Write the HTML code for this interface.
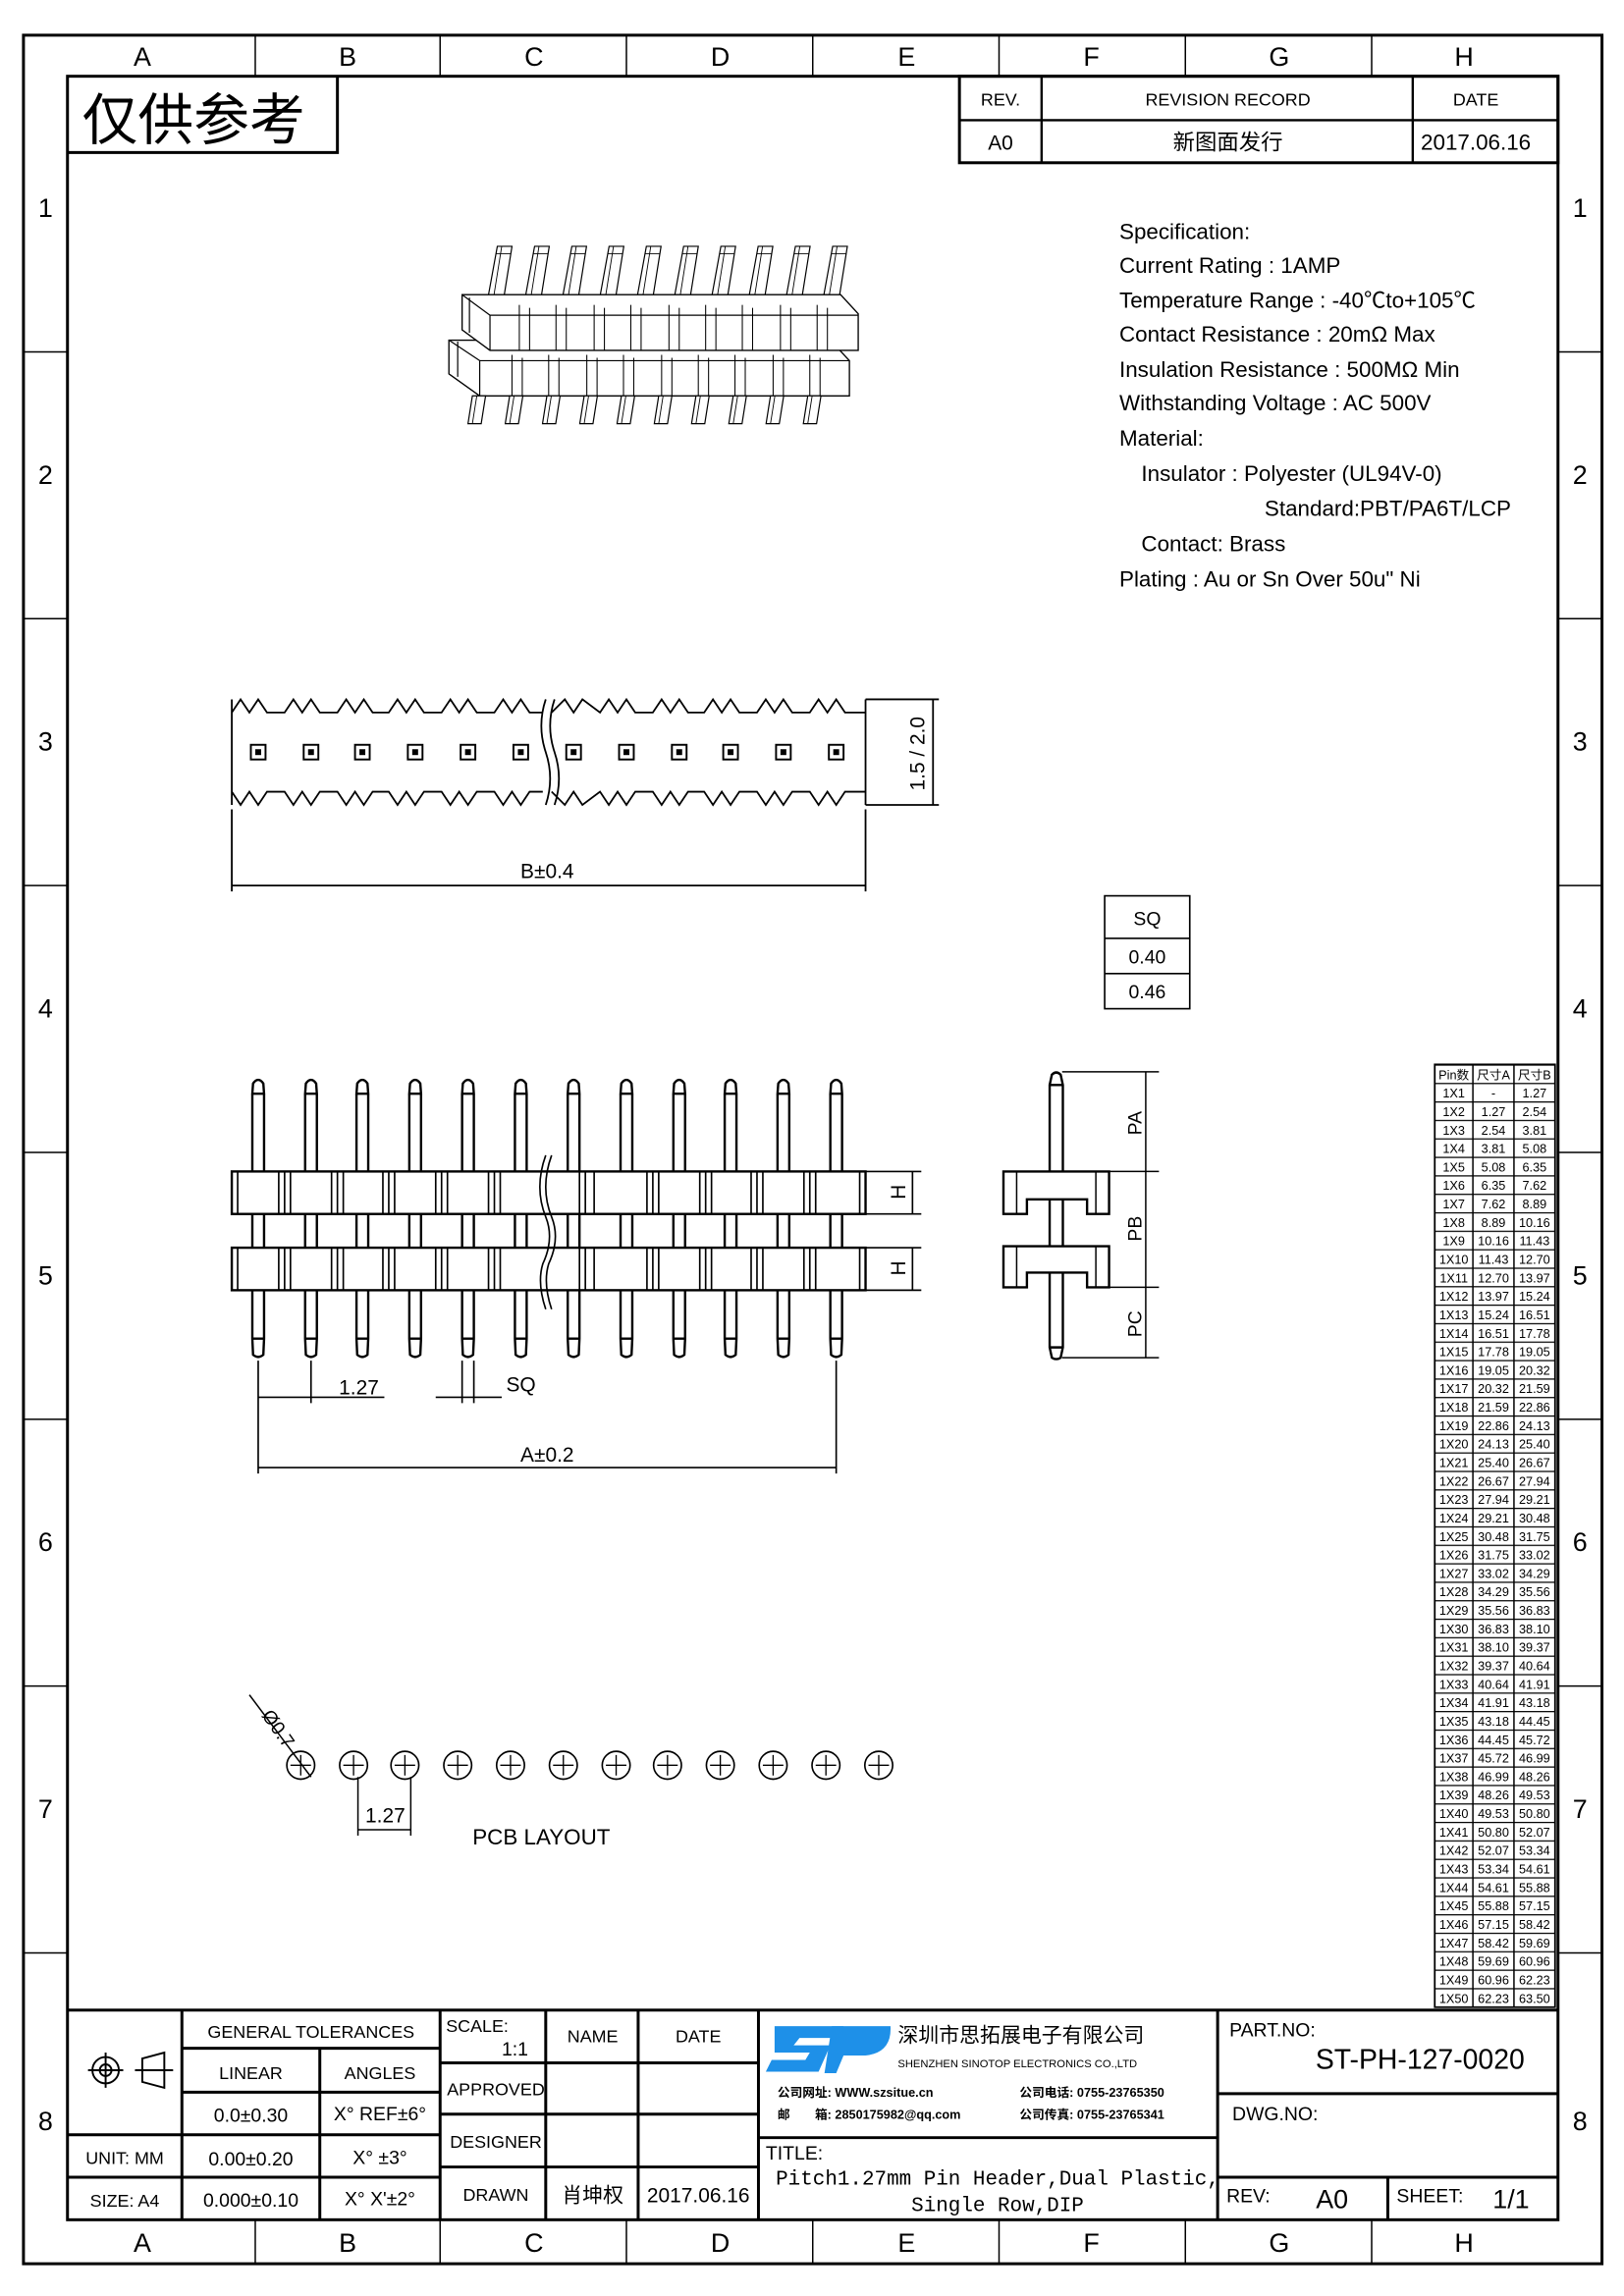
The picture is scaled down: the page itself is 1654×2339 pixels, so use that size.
<!DOCTYPE html>
<html><head><meta charset="utf-8"><style>
html,body{margin:0;padding:0;background:#fff}
svg{display:block}
text{font-family:"Liberation Sans Narrow","Liberation Sans","Noto Sans CJK SC",sans-serif;fill:#000}
.m{font-family:"Liberation Mono","Noto Sans CJK SC",monospace}
</style></head><body>
<svg width="1654" height="2339" viewBox="0 0 1107 1566" preserveAspectRatio="none" xmlns="http://www.w3.org/2000/svg">
<defs>
<pattern id="rows" x="0" y="726" width="82" height="12.6" patternUnits="userSpaceOnUse">
<line x1="0" y1="0.4" x2="82" y2="0.4" stroke="#000" stroke-width="0.9"/>
</pattern>
<g id="pin">
<path d="M-4,746 L-3.5,739 Q0,734 3.5,739 L4,746 Z M-4,746 V913 L-3.5,924 Q0,927 3.5,924 L4,913 V746 M-4,913 H4" fill="#fff" stroke="#000" stroke-width="1.6"/>
</g>
<g id="iso">
<polygon points="339,168 349,168 342,212 331,212" fill="#fff" stroke="#000" stroke-width="0.8"/>
<line x1="342" y1="168" x2="335" y2="212" stroke="#000" stroke-width="0.6"/>
<line x1="338" y1="173" x2="348" y2="173" stroke="#000" stroke-width="0.6"/>
</g>
<g id="isob">
<polygon points="322,270 331,270 328,289 319,289" fill="#fff" stroke="#000" stroke-width="0.8"/>
<line x1="325" y1="270" x2="322" y2="289" stroke="#000" stroke-width="0.6"/>
</g>
<g id="pad">
<circle cx="0" cy="0" r="9.5" fill="none" stroke="#000" stroke-width="1.1"/>
<path d="M-7,0H7M0,-7V7" stroke="#000" stroke-width="0.9"/>
</g>
</defs>

<rect x="16" y="24" width="1076" height="1520" fill="none" stroke="#000" stroke-width="2"/>
<rect x="46" y="52" width="1016" height="1462" fill="none" stroke="#000" stroke-width="2"/>
<g stroke="#000" stroke-width="1">
<path d="M174,24V52M300,24V52M427,24V52M554,24V52M681,24V52M808,24V52M935,24V52"/>
<path d="M174,1514V1544M300,1514V1544M427,1514V1544M554,1514V1544M681,1514V1544M808,1514V1544M935,1514V1544"/>
<path d="M16,240H46M16,422H46M16,604H46M16,786H46M16,968H46M16,1150H46M16,1332H46"/>
<path d="M1062,240H1092M1062,422H1092M1062,604H1092M1062,786H1092M1062,968H1092M1062,1150H1092M1062,1332H1092"/>
</g>
<g font-size="18" text-anchor="middle">
<text x="97" y="45">A</text><text x="237" y="45">B</text><text x="364" y="45">C</text><text x="491" y="45">D</text><text x="618" y="45">E</text><text x="744" y="45">F</text><text x="872" y="45">G</text><text x="998" y="45">H</text>
<text x="97" y="1536">A</text><text x="237" y="1536">B</text><text x="364" y="1536">C</text><text x="491" y="1536">D</text><text x="618" y="1536">E</text><text x="744" y="1536">F</text><text x="872" y="1536">G</text><text x="998" y="1536">H</text>
<text x="31" y="148">1</text><text x="31" y="330">2</text><text x="31" y="512">3</text><text x="31" y="694">4</text><text x="31" y="876">5</text><text x="31" y="1058">6</text><text x="31" y="1240">7</text><text x="31" y="1453">8</text>
<text x="1077" y="148">1</text><text x="1077" y="330">2</text><text x="1077" y="512">3</text><text x="1077" y="694">4</text><text x="1077" y="876">5</text><text x="1077" y="1058">6</text><text x="1077" y="1240">7</text><text x="1077" y="1453">8</text>
</g>

<path d="M230,52V104H46" fill="none" stroke="#000" stroke-width="2"/>
<text x="56" y="95" font-size="38" style="font-family:'Noto Sans CJK SC',sans-serif">仅供参考</text>

<rect x="654" y="52" width="408" height="59" fill="none" stroke="#000" stroke-width="2"/>
<path d="M654,82H1062M710,52V111M963,52V111" stroke="#000" stroke-width="1.6"/>
<g font-size="12" text-anchor="middle">
<text x="682" y="72">REV.</text><text x="837" y="72">REVISION RECORD</text><text x="1006" y="72">DATE</text>
<text x="682" y="102" font-size="14">A0</text><text x="837" y="102" font-size="15">新图面发行</text><text x="1006" y="102" font-size="15">2017.06.16</text>
</g>

<g font-size="15">
<text x="763" y="163">Specification:</text>
<text x="763" y="186">Current Rating : 1AMP</text>
<text x="763" y="210">Temperature Range : -40℃to+105℃</text>
<text x="763" y="233">Contact Resistance : 20mΩ Max</text>
<text x="763" y="257">Insulation Resistance : 500MΩ Min</text>
<text x="763" y="280">Withstanding Voltage : AC 500V</text>
<text x="763" y="304">Material:</text>
<text x="778" y="328">Insulator : Polyester (UL94V-0)</text>
<text x="862" y="352">Standard:PBT/PA6T/LCP</text>
<text x="778" y="376">Contact: Brass</text>
<text x="763" y="400">Plating : Au or Sn Over 50u" Ni</text>
</g>

<g>
<use href="#iso"/><use href="#iso" x="25.4"/><use href="#iso" x="50.8"/><use href="#iso" x="76.2"/><use href="#iso" x="101.6"/><use href="#iso" x="127"/><use href="#iso" x="152.4"/><use href="#iso" x="177.8"/><use href="#iso" x="203.2"/><use href="#iso" x="228.6"/>
<polygon points="306,232 566,232 579,246 579,270 327,270 306,255" fill="#fff" stroke="#000" stroke-width="0.9"/>
<path d="M327,246H579M327,246V270M312,233V257M306,232L327,246" fill="none" stroke="#000" stroke-width="0.8"/>
<polygon points="315,201 573,201 585,214 585,239 334,239 315,225" fill="#fff" stroke="#000" stroke-width="0.9"/>
<path d="M334,215H585M334,215V239M320,203V227M315,201L334,215" fill="none" stroke="#000" stroke-width="0.8"/>
<path d="M354,208V239M361,210V239M379,208V239M386,210V239M405,208V239M412,210V239M430,208V239M437,210V239M456,208V239M463,210V239M481,208V239M488,210V239M506,208V239M513,210V239M532,208V239M539,210V239M557,208V239M564,210V239" stroke="#000" stroke-width="0.7"/>
<path d="M349,242V270M356,244V270M374,242V270M381,244V270M400,242V270M407,244V270M425,242V270M432,244V270M451,242V270M458,244V270M476,242V270M483,244V270M501,242V270M508,244V270M527,242V270M534,244V270M552,242V270M559,244V270" stroke="#000" stroke-width="0.7"/>
<use href="#isob"/><use href="#isob" x="25.4"/><use href="#isob" x="50.8"/><use href="#isob" x="76.2"/><use href="#isob" x="101.6"/><use href="#isob" x="127"/><use href="#isob" x="152.4"/><use href="#isob" x="177.8"/><use href="#isob" x="203.2"/><use href="#isob" x="228.6"/>
</g>

<g stroke="#000" stroke-width="1.2" fill="none">
<path d="M158,477V549M590,477V549"/>
<path d="M158,486 L164,477 L170,486 L176,477 L182,486 L194,486 L200,477 L206,486 L212,477 L218,486 L230,486 L236,477 L242,486 L248,477 L254,486 L265,486 L271,477 L277,486 L283,477 L289,486 L301,486 L307,477 L313,486 L319,477 L325,486 L337,486 L343,477 L349,486 L355,477 L361,486 L370,486"/>
<path d="M376,486 L385,477 L391,486 L397,477 L409,486 L415,477 L421,486 L427,477 L433,486 L445,486 L451,477 L457,486 L463,477 L469,486 L480,486 L486,477 L492,486 L498,477 L504,486 L516,486 L522,477 L528,486 L534,477 L540,486 L552,486 L558,477 L564,486 L570,477 L576,486 L590,486"/>
<path d="M158,540 L164,549 L170,540 L176,549 L182,540 L194,540 L200,549 L206,540 L212,549 L218,540 L230,540 L236,549 L242,540 L248,549 L254,540 L265,540 L271,549 L277,540 L283,549 L289,540 L301,540 L307,549 L313,540 L319,549 L325,540 L337,540 L343,549 L349,540 L355,549 L361,540 L370,540"/>
<path d="M376,540 L385,549 L391,540 L397,549 L409,540 L415,549 L421,540 L427,549 L433,540 L445,540 L451,549 L457,540 L463,549 L469,540 L480,540 L486,549 L492,540 L498,549 L504,540 L516,540 L522,549 L528,540 L534,549 L540,540 L552,540 L558,549 L564,540 L570,549 L576,540 L590,540"/>
<path d="M372,477 Q366,495 372,513 Q378,531 372,549 M378,477 Q372,495 378,513 Q384,531 378,549"/>
<path d="M590,477H640M590,549H640M636,477V549"/>
<path d="M158,552V608M590,552V608M158,604H590"/>
</g>
<g fill="none" stroke="#000" stroke-width="1.3">
<rect x="171" y="508" width="10" height="10"/><rect x="207" y="508" width="10" height="10"/><rect x="242" y="508" width="10" height="10"/><rect x="278" y="508" width="10" height="10"/><rect x="314" y="508" width="10" height="10"/><rect x="350" y="508" width="10" height="10"/><rect x="386" y="508" width="10" height="10"/><rect x="422" y="508" width="10" height="10"/><rect x="458" y="508" width="10" height="10"/><rect x="493" y="508" width="10" height="10"/><rect x="529" y="508" width="10" height="10"/><rect x="565" y="508" width="10" height="10"/>
</g>
<g fill="#000"><rect x="174" y="511" width="4" height="4"/><rect x="210" y="511" width="4" height="4"/><rect x="245" y="511" width="4" height="4"/><rect x="281" y="511" width="4" height="4"/><rect x="317" y="511" width="4" height="4"/><rect x="353" y="511" width="4" height="4"/><rect x="389" y="511" width="4" height="4"/><rect x="425" y="511" width="4" height="4"/><rect x="461" y="511" width="4" height="4"/><rect x="496" y="511" width="4" height="4"/><rect x="532" y="511" width="4" height="4"/><rect x="568" y="511" width="4" height="4"/></g>
<text x="373" y="599" font-size="14" text-anchor="middle">B±0.4</text>
<text transform="translate(630,514) rotate(-90)" font-size="14" text-anchor="middle">1.5 / 2.0</text>

<g fill="none" stroke="#000" stroke-width="1.1"><rect x="753" y="611" width="58" height="77"/><path d="M753,640H811M753,664H811"/></g>
<g font-size="13" text-anchor="middle"><text x="782" y="631">SQ</text><text x="782" y="657">0.40</text><text x="782" y="681">0.46</text></g>

<g>
<use href="#pin" x="176"/><use href="#pin" x="212"/><use href="#pin" x="247"/><use href="#pin" x="283"/><use href="#pin" x="319"/><use href="#pin" x="355"/><use href="#pin" x="391"/><use href="#pin" x="427"/><use href="#pin" x="463"/><use href="#pin" x="498"/><use href="#pin" x="534"/><use href="#pin" x="570"/>
</g>
<g fill="#fff" stroke="#000" stroke-width="1.6">
<rect x="158" y="799" width="432" height="29"/><rect x="158" y="851" width="432" height="29"/>
</g>
<g stroke="#000" stroke-width="1.1">
<path d="M162,799V828M586,799V828M162,851V880M586,851V880"/>
<path d="M190,799V828M194,799V828M198,799V828M226,799V828M230,799V828M234,799V828M261,799V828M265,799V828M269,799V828M297,799V828M301,799V828M305,799V828M333,799V828M337,799V828M341,799V828M395,799V828M399,799V828M405,799V828M441,799V828M445,799V828M449,799V828M477,799V828M481,799V828M485,799V828M512,799V828M516,799V828M520,799V828M548,799V828M552,799V828M556,799V828"/>
<path d="M190,851V880M194,851V880M198,851V880M226,851V880M230,851V880M234,851V880M261,851V880M265,851V880M269,851V880M297,851V880M301,851V880M305,851V880M333,851V880M337,851V880M341,851V880M395,851V880M399,851V880M405,851V880M441,851V880M445,851V880M449,851V880M477,851V880M481,851V880M485,851V880M512,851V880M516,851V880M520,851V880M548,851V880M552,851V880M556,851V880"/>
</g>
<g fill="none" stroke="#000" stroke-width="1.1">
<path d="M372,788 Q364,810 372,830 Q378,845 370,862 Q366,875 372,893 M376,788 Q368,810 376,830 Q382,845 374,862 Q370,875 376,893"/>
<path d="M590,799H628M590,828H628M590,851H628M590,880H628M622,799V828M622,851V880"/>
<path d="M176,928V1005M212,928V957M315,928V957M323,928V957M570,928V1005"/>
<path d="M176,953H262M297,953H342M176,1001H570"/>
</g>
<g font-size="14">
<text transform="translate(617,813) rotate(-90)" text-anchor="middle">H</text>
<text transform="translate(617,865) rotate(-90)" text-anchor="middle">H</text>
<text x="231" y="951">1.27</text>
<text x="345" y="949">SQ</text>
<text x="373" y="997" text-anchor="middle">A±0.2</text>
</g>

<g fill="#fff" stroke="#000" stroke-width="1.6">
<path d="M715.5,740 L717,733 Q720,730 723,733 L724.5,740 V919 L723,926 Q720,928 717,926 L715.5,919 Z M715.5,740H724.5M715.5,919H724.5"/>
<path d="M684,799H756V828H741V818H700V828H684Z"/>
<path d="M684,850H756V878H741V868H700V878H684Z"/>
</g>
<g stroke="#000" stroke-width="1" fill="none">
<path d="M693,799V828M747,799V828M693,850V878M747,850V878"/>
<path d="M724,731H790M756,799H790M756,878H790M724,926H790M781,731V926"/>
</g>
<g font-size="13">
<text transform="translate(778,766) rotate(-90)" text-anchor="middle">PA</text>
<text transform="translate(778,838) rotate(-90)" text-anchor="middle">PB</text>
<text transform="translate(778,903) rotate(-90)" text-anchor="middle">PC</text>
</g>

<g>
<use href="#pad" x="205" y="1204"/><use href="#pad" x="241" y="1204"/><use href="#pad" x="276" y="1204"/><use href="#pad" x="312" y="1204"/><use href="#pad" x="348" y="1204"/><use href="#pad" x="384" y="1204"/><use href="#pad" x="420" y="1204"/><use href="#pad" x="455" y="1204"/><use href="#pad" x="491" y="1204"/><use href="#pad" x="527" y="1204"/><use href="#pad" x="563" y="1204"/><use href="#pad" x="599" y="1204"/>
</g>
<g stroke="#000" stroke-width="1" fill="none">
<path d="M170,1156L212,1212M244,1212V1252M280,1212V1252M244,1248H280"/>
</g>
<text transform="translate(178,1170) rotate(55)" font-size="13">Ø0.7</text>
<text x="249" y="1243" font-size="14">1.27</text>
<text x="369" y="1258" font-size="15" text-anchor="middle">PCB LAYOUT</text>

<rect x="978" y="726" width="82" height="643" fill="url(#rows)" stroke="#000" stroke-width="1.2"/>
<path d="M1004,726V1369M1032,726V1369" stroke="#000" stroke-width="1"/>
<g font-size="8.5" text-anchor="middle">
<text><tspan x="991" y="736">Pin数</tspan><tspan x="991" dy="12.6">1X1</tspan><tspan x="991" dy="12.6">1X2</tspan><tspan x="991" dy="12.6">1X3</tspan><tspan x="991" dy="12.6">1X4</tspan><tspan x="991" dy="12.6">1X5</tspan><tspan x="991" dy="12.6">1X6</tspan><tspan x="991" dy="12.6">1X7</tspan><tspan x="991" dy="12.6">1X8</tspan><tspan x="991" dy="12.6">1X9</tspan><tspan x="991" dy="12.6">1X10</tspan><tspan x="991" dy="12.6">1X11</tspan><tspan x="991" dy="12.6">1X12</tspan><tspan x="991" dy="12.6">1X13</tspan><tspan x="991" dy="12.6">1X14</tspan><tspan x="991" dy="12.6">1X15</tspan><tspan x="991" dy="12.6">1X16</tspan><tspan x="991" dy="12.6">1X17</tspan><tspan x="991" dy="12.6">1X18</tspan><tspan x="991" dy="12.6">1X19</tspan><tspan x="991" dy="12.6">1X20</tspan><tspan x="991" dy="12.6">1X21</tspan><tspan x="991" dy="12.6">1X22</tspan><tspan x="991" dy="12.6">1X23</tspan><tspan x="991" dy="12.6">1X24</tspan><tspan x="991" dy="12.6">1X25</tspan><tspan x="991" dy="12.6">1X26</tspan><tspan x="991" dy="12.6">1X27</tspan><tspan x="991" dy="12.6">1X28</tspan><tspan x="991" dy="12.6">1X29</tspan><tspan x="991" dy="12.6">1X30</tspan><tspan x="991" dy="12.6">1X31</tspan><tspan x="991" dy="12.6">1X32</tspan><tspan x="991" dy="12.6">1X33</tspan><tspan x="991" dy="12.6">1X34</tspan><tspan x="991" dy="12.6">1X35</tspan><tspan x="991" dy="12.6">1X36</tspan><tspan x="991" dy="12.6">1X37</tspan><tspan x="991" dy="12.6">1X38</tspan><tspan x="991" dy="12.6">1X39</tspan><tspan x="991" dy="12.6">1X40</tspan><tspan x="991" dy="12.6">1X41</tspan><tspan x="991" dy="12.6">1X42</tspan><tspan x="991" dy="12.6">1X43</tspan><tspan x="991" dy="12.6">1X44</tspan><tspan x="991" dy="12.6">1X45</tspan><tspan x="991" dy="12.6">1X46</tspan><tspan x="991" dy="12.6">1X47</tspan><tspan x="991" dy="12.6">1X48</tspan><tspan x="991" dy="12.6">1X49</tspan><tspan x="991" dy="12.6">1X50</tspan></text>
<text><tspan x="1018" y="736">尺寸A</tspan><tspan x="1018" dy="12.6">-</tspan><tspan x="1018" dy="12.6">1.27</tspan><tspan x="1018" dy="12.6">2.54</tspan><tspan x="1018" dy="12.6">3.81</tspan><tspan x="1018" dy="12.6">5.08</tspan><tspan x="1018" dy="12.6">6.35</tspan><tspan x="1018" dy="12.6">7.62</tspan><tspan x="1018" dy="12.6">8.89</tspan><tspan x="1018" dy="12.6">10.16</tspan><tspan x="1018" dy="12.6">11.43</tspan><tspan x="1018" dy="12.6">12.70</tspan><tspan x="1018" dy="12.6">13.97</tspan><tspan x="1018" dy="12.6">15.24</tspan><tspan x="1018" dy="12.6">16.51</tspan><tspan x="1018" dy="12.6">17.78</tspan><tspan x="1018" dy="12.6">19.05</tspan><tspan x="1018" dy="12.6">20.32</tspan><tspan x="1018" dy="12.6">21.59</tspan><tspan x="1018" dy="12.6">22.86</tspan><tspan x="1018" dy="12.6">24.13</tspan><tspan x="1018" dy="12.6">25.40</tspan><tspan x="1018" dy="12.6">26.67</tspan><tspan x="1018" dy="12.6">27.94</tspan><tspan x="1018" dy="12.6">29.21</tspan><tspan x="1018" dy="12.6">30.48</tspan><tspan x="1018" dy="12.6">31.75</tspan><tspan x="1018" dy="12.6">33.02</tspan><tspan x="1018" dy="12.6">34.29</tspan><tspan x="1018" dy="12.6">35.56</tspan><tspan x="1018" dy="12.6">36.83</tspan><tspan x="1018" dy="12.6">38.10</tspan><tspan x="1018" dy="12.6">39.37</tspan><tspan x="1018" dy="12.6">40.64</tspan><tspan x="1018" dy="12.6">41.91</tspan><tspan x="1018" dy="12.6">43.18</tspan><tspan x="1018" dy="12.6">44.45</tspan><tspan x="1018" dy="12.6">45.72</tspan><tspan x="1018" dy="12.6">46.99</tspan><tspan x="1018" dy="12.6">48.26</tspan><tspan x="1018" dy="12.6">49.53</tspan><tspan x="1018" dy="12.6">50.80</tspan><tspan x="1018" dy="12.6">52.07</tspan><tspan x="1018" dy="12.6">53.34</tspan><tspan x="1018" dy="12.6">54.61</tspan><tspan x="1018" dy="12.6">55.88</tspan><tspan x="1018" dy="12.6">57.15</tspan><tspan x="1018" dy="12.6">58.42</tspan><tspan x="1018" dy="12.6">59.69</tspan><tspan x="1018" dy="12.6">60.96</tspan><tspan x="1018" dy="12.6">62.23</tspan></text>
<text><tspan x="1046" y="736">尺寸B</tspan><tspan x="1046" dy="12.6">1.27</tspan><tspan x="1046" dy="12.6">2.54</tspan><tspan x="1046" dy="12.6">3.81</tspan><tspan x="1046" dy="12.6">5.08</tspan><tspan x="1046" dy="12.6">6.35</tspan><tspan x="1046" dy="12.6">7.62</tspan><tspan x="1046" dy="12.6">8.89</tspan><tspan x="1046" dy="12.6">10.16</tspan><tspan x="1046" dy="12.6">11.43</tspan><tspan x="1046" dy="12.6">12.70</tspan><tspan x="1046" dy="12.6">13.97</tspan><tspan x="1046" dy="12.6">15.24</tspan><tspan x="1046" dy="12.6">16.51</tspan><tspan x="1046" dy="12.6">17.78</tspan><tspan x="1046" dy="12.6">19.05</tspan><tspan x="1046" dy="12.6">20.32</tspan><tspan x="1046" dy="12.6">21.59</tspan><tspan x="1046" dy="12.6">22.86</tspan><tspan x="1046" dy="12.6">24.13</tspan><tspan x="1046" dy="12.6">25.40</tspan><tspan x="1046" dy="12.6">26.67</tspan><tspan x="1046" dy="12.6">27.94</tspan><tspan x="1046" dy="12.6">29.21</tspan><tspan x="1046" dy="12.6">30.48</tspan><tspan x="1046" dy="12.6">31.75</tspan><tspan x="1046" dy="12.6">33.02</tspan><tspan x="1046" dy="12.6">34.29</tspan><tspan x="1046" dy="12.6">35.56</tspan><tspan x="1046" dy="12.6">36.83</tspan><tspan x="1046" dy="12.6">38.10</tspan><tspan x="1046" dy="12.6">39.37</tspan><tspan x="1046" dy="12.6">40.64</tspan><tspan x="1046" dy="12.6">41.91</tspan><tspan x="1046" dy="12.6">43.18</tspan><tspan x="1046" dy="12.6">44.45</tspan><tspan x="1046" dy="12.6">45.72</tspan><tspan x="1046" dy="12.6">46.99</tspan><tspan x="1046" dy="12.6">48.26</tspan><tspan x="1046" dy="12.6">49.53</tspan><tspan x="1046" dy="12.6">50.80</tspan><tspan x="1046" dy="12.6">52.07</tspan><tspan x="1046" dy="12.6">53.34</tspan><tspan x="1046" dy="12.6">54.61</tspan><tspan x="1046" dy="12.6">55.88</tspan><tspan x="1046" dy="12.6">57.15</tspan><tspan x="1046" dy="12.6">58.42</tspan><tspan x="1046" dy="12.6">59.69</tspan><tspan x="1046" dy="12.6">60.96</tspan><tspan x="1046" dy="12.6">62.23</tspan><tspan x="1046" dy="12.6">63.50</tspan></text>
</g>

<g stroke="#000" stroke-width="2" fill="none">
<path d="M46,1371H1062"/>
<path d="M124,1371V1514M300,1371V1514M517,1371V1514M830,1371V1514"/>
<path d="M124,1397H300M124,1427H300M46,1456H300M46,1485H300"/>
<path d="M218,1397V1514"/>
<path d="M300,1407H517M300,1442H517M300,1478H517M372,1371V1514M435,1371V1514"/>
<path d="M517,1458H830M830,1428H1062M830,1485H1062M946,1485V1514"/>
</g>
<g stroke="#000" stroke-width="1.3" fill="none">
<circle cx="72" cy="1412" r="9"/><circle cx="72" cy="1412" r="4"/><path d="M60,1412H84M72,1400V1424M92,1412H118M97,1404L112,1400V1424L97,1420Z"/>
</g>
<g font-size="12" text-anchor="middle">
<text x="212" y="1390">GENERAL TOLERANCES</text>
<text x="171" y="1418">LINEAR</text><text x="259" y="1418">ANGLES</text>
<text x="171" y="1447" font-size="13">0.0±0.30</text><text x="259" y="1446" font-size="13">X° REF±6°</text>
<text x="85" y="1476">UNIT: MM</text><text x="171" y="1477" font-size="13">0.00±0.20</text><text x="259" y="1476" font-size="13">X° ±3°</text>
<text x="85" y="1505">SIZE: A4</text><text x="171" y="1505" font-size="13">0.000±0.10</text><text x="259" y="1504" font-size="13">X° X'±2°</text>
<text x="404" y="1393">NAME</text><text x="476" y="1393">DATE</text>
<text x="338" y="1429">APPROVED</text><text x="338" y="1465">DESIGNER</text><text x="338" y="1501">DRAWN</text>
<text x="404" y="1502" font-size="14">肖坤权</text><text x="476" y="1502" font-size="14">2017.06.16</text>
</g>
<text x="304" y="1386" font-size="12">SCALE:</text><text x="342" y="1402" font-size="13">1:1</text>

<g>
<path d="M528,1382H575L571,1390H545L541,1395H566L558,1413H522L526,1405H549L552,1400H528Z" fill="#1e90e8"/>
<path d="M567,1382H607Q608,1400 590,1402H575L570,1414H562Z" fill="#1e90e8"/>
<text x="612" y="1393" font-size="14" style="font-family:'Noto Sans CJK SC',sans-serif">深圳市思拓展电子有限公司</text>
<text x="612" y="1410" font-size="7.5">SHENZHEN SINOTOP ELECTRONICS CO.,LTD</text>
<text x="530" y="1430" font-size="8.5" font-weight="bold">公司网址: WWW.szsitue.cn</text>
<text x="695" y="1430" font-size="8.5" font-weight="bold">公司电话: 0755-23765350</text>
<text x="530" y="1445" font-size="8.5" font-weight="bold">邮　　箱: 2850175982@qq.com</text>
<text x="695" y="1445" font-size="8.5" font-weight="bold">公司传真: 0755-23765341</text>
</g>
<text x="522" y="1473" font-size="13">TITLE:</text>
<text x="680" y="1490" font-size="14" text-anchor="middle" class="m">Pitch1.27mm Pin Header,Dual Plastic,</text>
<text x="680" y="1508" font-size="14" text-anchor="middle" class="m">Single Row,DIP</text>
<text x="838" y="1389" font-size="13">PART.NO:</text>
<text x="968" y="1411" font-size="19" text-anchor="middle">ST-PH-127-0020</text>
<text x="840" y="1446" font-size="13">DWG.NO:</text>
<text x="836" y="1502" font-size="13">REV:</text><text x="908" y="1506" font-size="18" text-anchor="middle">A0</text>
<text x="952" y="1502" font-size="13">SHEET:</text><text x="1030" y="1506" font-size="18" text-anchor="middle">1/1</text>
</svg>
</body></html>
